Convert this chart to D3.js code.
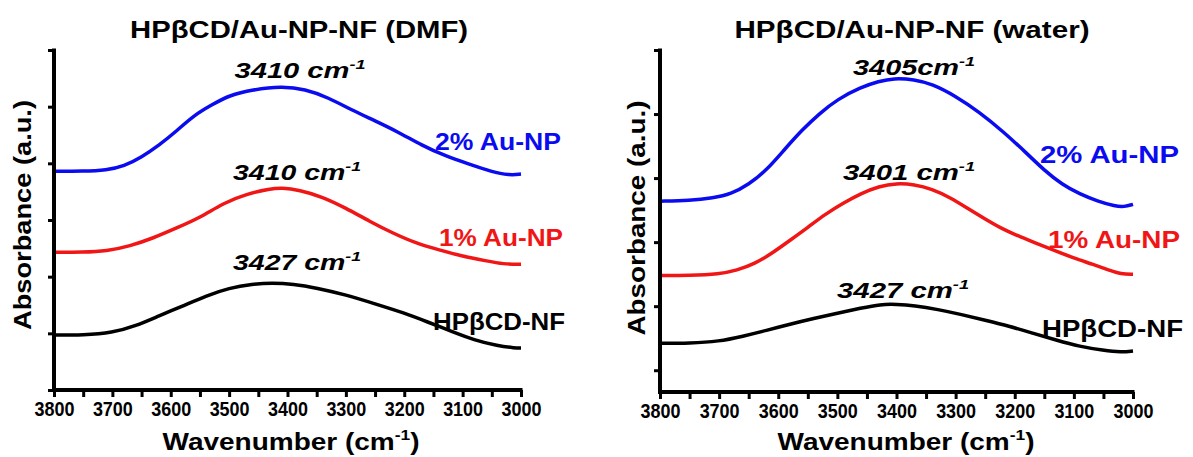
<!DOCTYPE html>
<html>
<head>
<meta charset="utf-8">
<script src="https://cdn.jsdelivr.net/npm/d3@7"></script>
<style>
  body { margin: 0; background: #fff; }
  text { font-family: "Liberation Sans", Arial, sans-serif; font-weight: bold; }
  .axis path, .axis line { stroke: #000; stroke-width: 4px; }
</style>
</head>
<body>
<svg id="chart" width="1193" height="457"></svg>
<script>
// ---- data: [wavenumber (cm-1), absorbance (a.u.)]
var dmfBlue = [[3800,3.86],[3750,3.86],[3710,3.88],[3680,3.95],[3650,4.11],[3620,4.32],[3590,4.57],[3560,4.85],[3530,5.03],[3500,5.20],[3460,5.30],[3410,5.36],[3370,5.31],[3330,5.16],[3290,4.94],[3250,4.75],[3210,4.55],[3170,4.32],[3130,4.13],[3090,3.99],[3050,3.85],[3020,3.79],[3000,3.81]]
var dmfRed = [[3800,2.43],[3750,2.43],[3710,2.45],[3670,2.54],[3630,2.68],[3590,2.86],[3550,3.04],[3510,3.30],[3470,3.46],[3430,3.55],[3410,3.57],[3380,3.53],[3340,3.41],[3300,3.21],[3260,2.98],[3220,2.77],[3180,2.59],[3140,2.47],[3100,2.36],[3060,2.28],[3030,2.22],[3000,2.22]]
var dmfBlack = [[3800,0.97],[3750,0.97],[3700,1.01],[3660,1.13],[3620,1.31],[3580,1.48],[3540,1.66],[3500,1.80],[3460,1.87],[3427,1.89],[3390,1.87],[3350,1.80],[3300,1.68],[3250,1.52],[3200,1.36],[3160,1.20],[3120,1.04],[3080,0.88],[3040,0.78],[3010,0.74],[3000,0.74]]

var waterBlue = [[3800,2.64],[3750,2.65],[3710,2.69],[3680,2.75],[3650,2.90],[3620,3.12],[3590,3.44],[3560,3.75],[3530,4.01],[3500,4.23],[3460,4.42],[3430,4.51],[3405,4.56],[3370,4.54],[3340,4.47],[3300,4.28],[3260,4.03],[3220,3.73],[3180,3.39],[3150,3.12],[3120,2.90],[3090,2.75],[3060,2.64],[3030,2.56],[3015,2.55],[3000,2.59]]
var waterRed = [[3800,1.48],[3750,1.48],[3700,1.50],[3670,1.56],[3640,1.66],[3610,1.83],[3580,2.03],[3550,2.23],[3520,2.44],[3490,2.61],[3460,2.76],[3430,2.87],[3400,2.92],[3370,2.90],[3340,2.83],[3310,2.70],[3280,2.53],[3250,2.36],[3220,2.20],[3190,2.08],[3160,1.97],[3130,1.86],[3100,1.75],[3070,1.66],[3040,1.56],[3020,1.50],[3000,1.50]]
var waterBlack = [[3800,0.42],[3750,0.42],[3700,0.45],[3660,0.53],[3620,0.62],[3580,0.72],[3540,0.81],[3500,0.89],[3460,0.97],[3427,1.03],[3400,1.03],[3370,1.01],[3330,0.95],[3290,0.87],[3250,0.78],[3210,0.69],[3170,0.58],[3130,0.47],[3090,0.37],[3050,0.31],[3020,0.28],[3000,0.30]]

var seriesNames = ["2% Au-NP", "1% Au-NP", "HP\u03b2CD-NF"]
var dmfPeaks = ["3410 cm", "3410 cm", "3427 cm"]
var waterPeaks = ["3405cm", "3401 cm", "3427 cm"]
var panelTitles = ["HP\u03b2CD/Au-NP-NF (DMF)", "HP\u03b2CD/Au-NP-NF (water)"]
var wavenumberTicks = d3.range(3800, 2999, -50)
var colors = ["#0b0bf0", "#f01616", "#000"]

var svg = d3.select("#chart")

// text with a fixed rendered width (the figure's font runs wider than Arial)
function label(g, x, y, parts, size, width, opts){
  opts = opts || {}
  var t = g.append("text")
    .attr("x", x).attr("y", y)
    .attr("font-size", size)
    .attr("fill", opts.color || "#000")
    .attr("text-anchor", opts.anchor || "start")
    .attr("font-style", opts.italic ? "italic" : "normal")
  if (opts.rotate) t.attr("transform", "rotate(-90," + x + "," + y + ")")
  t.append("tspan").text(parts[0])
  if (parts[1]) {
    t.append("tspan").attr("font-size", size*0.62).attr("dy", -size*0.42).text(parts[1])
    if (parts[2]) t.append("tspan").attr("dy", size*0.42).text(parts[2])
  }
  if (width) t.attr("textLength", width).attr("lengthAdjust", "spacingAndGlyphs")
  return t
}

function drawPanel(p){
  var g = svg.append("g")
  var x = d3.scaleLinear().domain([3800, 3000]).range(p.xRange)
  var y = d3.scaleLinear().domain(p.yDomain).range(p.yRange)

  var line = d3.line()
    .x(function(d){ return x(d[0]) })
    .y(function(d){ return y(d[1]) })
    .curve(d3.curveBasis)

  p.series.forEach(function(s, i){
    g.append("path")
      .attr("d", line(s))
      .attr("fill", "none")
      .attr("stroke", colors[i])
      .attr("stroke-width", 3.5)
      .attr("stroke-linejoin", "round")
  })

  var xAxis = g.append("g")
    .attr("class", "axis")
    .attr("transform", "translate(0," + p.yRange[0] + ")")
    .call(d3.axisBottom(x)
      .tickValues(wavenumberTicks)
      .tickSize(7).tickSizeOuter(0).tickPadding(5)
      .tickFormat(function(d){ return d % 100 === 0 ? d : "" }))
  xAxis.select(".domain")
    .attr("d", "M" + (p.xRange[0] - 2) + ",0H" + (p.xRange[1] + 1.5))
  xAxis.selectAll(".tick line").style("stroke-width", "3px")
  xAxis.selectAll(".tick text")
    .attr("font-size", 20).attr("fill", "#000")
    .attr("font-family", "Liberation Sans, Arial, sans-serif").attr("font-weight", "bold")
    .filter(function(d){ return d % 100 === 0 })
    .attr("textLength", 40).attr("lengthAdjust", "spacingAndGlyphs")

  var yAxis = g.append("g")
    .attr("class", "axis")
    .attr("transform", "translate(" + p.xRange[0] + ",0)")
    .call(d3.axisLeft(y).tickValues(p.yTicks).tickSize(6).tickSizeOuter(0).tickFormat(""))
  yAxis.select(".domain")
    .attr("d", "M0," + (p.yRange[1] - 1.5) + "V" + (p.yRange[0] + 2))
  yAxis.selectAll(".tick line").style("stroke-width", "3px")

  label(g, p.title[0], p.title[1], [panelTitles[p.index]], 24, p.title[2], {anchor: "middle"})
  label(g, p.xTitle[0], p.xTitle[1], ["Wavenumber (cm", "-1", ")"], 23, p.xTitle[2], {anchor: "middle"})
  label(g, p.yTitle[0], p.yTitle[1], ["Absorbance (a.u.)"], 23, p.yTitle[2], {anchor: "middle", rotate: true})

  p.peaks.forEach(function(pk, i){
    label(g, p.peakPos[i][0], p.peakPos[i][1], [pk, "-1"], 22, p.peakPos[i][2], {anchor: "middle", italic: true})
  })
  seriesNames.forEach(function(name, i){
    label(g, p.namePos[i][0], p.namePos[i][1], [name], 24, p.namePos[i][2], {color: colors[i]})
  })
}

drawPanel({
  index: 0,
  series: [dmfBlue, dmfRed, dmfBlack],
  peaks: dmfPeaks,
  xRange: [54, 521], yRange: [390, 50],
  yDomain: [0, 6], yTicks: [0, 1, 2, 3, 4, 5, 6],
  title: [299, 38, 338],
  xTitle: [291, 450, 257],
  yTitle: [31, 215, 230],
  peakPos: [[300, 78, 131], [297, 180, 128], [297, 270, 128]],
  namePos: [[435, 150, 126], [439, 246, 124], [433, 330, 132]]
})

drawPanel({
  index: 1,
  series: [waterBlue, waterRed, waterBlack],
  peaks: waterPeaks,
  xRange: [660, 1133], yRange: [392, 50],
  yDomain: [-0.34, 5], yTicks: [0, 1, 2, 3, 4, 5],
  title: [912, 38, 355],
  xTitle: [906, 450, 257],
  yTitle: [645, 218, 235],
  peakPos: [[914, 75, 122], [909, 180, 132], [903, 298, 132]],
  namePos: [[1040, 163, 139], [1048, 248, 132], [1042, 337, 141]]
})
</script>
</body>
</html>
